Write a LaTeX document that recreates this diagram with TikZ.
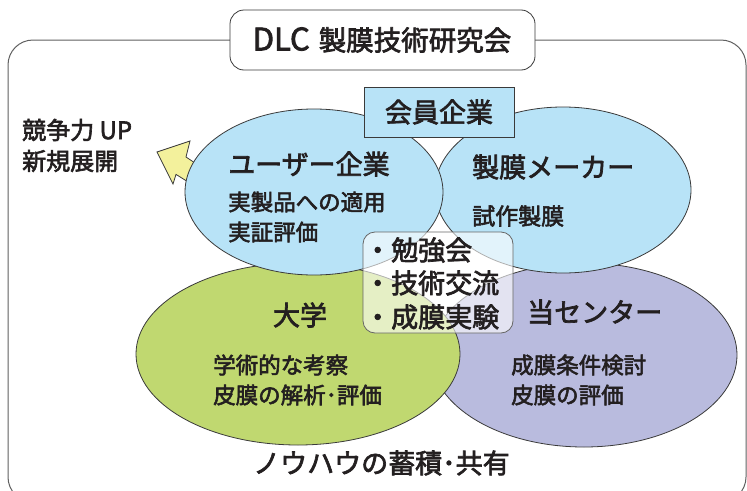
\documentclass[tikz,border=0pt]{standalone}
\usepackage{fontspec}
\setmainfont{Noto Sans CJK JP}[FakeBold=2.5]
\usetikzlibrary{shapes.geometric}
\definecolor{ink}{HTML}{231F20}
\definecolor{edge}{HTML}{3A3A3A}
\definecolor{framec}{HTML}{606060}
\definecolor{bluef}{HTML}{B8E3F7}
\definecolor{greenf}{HTML}{C0D870}
\definecolor{purpf}{HTML}{B9BBDE}
\definecolor{yellowf}{HTML}{F3F19C}
\newcommand\fsz[1]{\fontsize{#1}{#1}\selectfont}
\begin{document}
\begin{tikzpicture}[x=1pt,y=-1pt,
  txt/.style={inner sep=0pt, text=ink},
  ell/.style={ellipse, draw=edge, line width=0.8pt, inner sep=0pt},
  boxst/.style={draw=edge, line width=0.8pt, inner sep=0pt, text=ink}]
\useasboundingbox (0,0) rectangle (747,490);
\clip (0,0) rectangle (747,490);
% outer frame
\draw[framec, line width=1pt, rounded corners=25pt] (8,40) rectangle (746,502);
% title
\node[boxst, fill=white, rounded corners=14pt, minimum width=305pt, minimum height=60pt] (title) at (382.5,40) {};
\node[txt] (titletext) at (382,40) {\fsz{31}DLC\hspace{9pt}\fsz{27.5}製膜技術研究会};
% arrow
\coordinate (aT) at (157,152);
\coordinate (aB1) at (190,141);
\coordinate (aS1) at (186,157);
\coordinate (aE1) at (221.2,180.4);
\coordinate (aE2) at (211.6,196.6);
\coordinate (aS2) at (176,174.4);
\coordinate (aB2) at (173,184);
\draw[edge, line width=0.8pt, fill=yellowf, line join=miter] (aT) -- (aB1) -- (aS1) -- (aE1) -- (aE2) -- (aS2) -- (aB2) -- cycle;
% ellipses
\node[ell, fill=purpf, minimum width=306pt, minimum height=184pt] (center) at (584,355) {};
\node[ell, fill=greenf, minimum width=324pt, minimum height=182pt] (univ) at (298,354) {};
\node[ell, fill=bluef, minimum width=256pt, minimum height=166pt] (maker) at (563,190) {};
\node[ell, fill=bluef, minimum width=258pt, minimum height=166pt] (user) at (314,192) {};
% center box
\node[draw=gray!80!black, line width=0.8pt, fill=white, fill opacity=0.6, rounded corners=12pt, minimum width=150pt, minimum height=101pt, inner sep=0pt] (mid) at (438,282.5) {};
\node[txt, anchor=west] (m1) at (364,250) {\fsz{27}・勉強会};
\node[txt, anchor=west] (m2) at (364,283) {\fsz{27}・技術交流};
\node[txt, anchor=west] (m3) at (364,317) {\fsz{27}・成膜実験};
% member box
\node[boxst, fill=bluef, minimum width=150pt, minimum height=50pt] (kaiin) at (439,112) {\fsz{27}会員企業};
% left text
\node[txt, anchor=west] (k1) at (22,130) {\fsz{24}競争力 UP};
\node[txt, anchor=west] (k2) at (22,161) {\fsz{24}新規展開};
% user
\node[txt, anchor=west] (u0) at (228,164) {\fsz{27}ユーザー企業};
\node[txt, anchor=west] (u1) at (228,202) {\fsz{22.5}実製品への適用};
\node[txt, anchor=west] (u2) at (228,232) {\fsz{22.5}実証評価};
% maker
\node[txt, anchor=west] (k0) at (472,167) {\fsz{27}製膜メーカー};
\node[txt, anchor=west] (kk) at (472,216) {\fsz{23}試作製膜};
% university
\node[txt] (d0) at (300,315) {\fsz{27}大学};
\node[txt, anchor=west] (d1) at (213,365) {\fsz{22.5}学術的な考察};
\node[txt, anchor=west] (d2) at (213,395) {\fsz{22.5}皮膜の解析･評価};
% center
\node[txt, anchor=west] (c0) at (527,312) {\fsz{27}当センター};
\node[txt, anchor=west] (c1) at (511,365) {\fsz{22.5}成膜条件検討};
\node[txt, anchor=west] (c2) at (511,395) {\fsz{22.5}皮膜の評価};
% bottom
\node[txt, anchor=west] (bt) at (253,463) {\fsz{27}ノウハウの蓄積･共有};
\end{tikzpicture}
\end{document}
